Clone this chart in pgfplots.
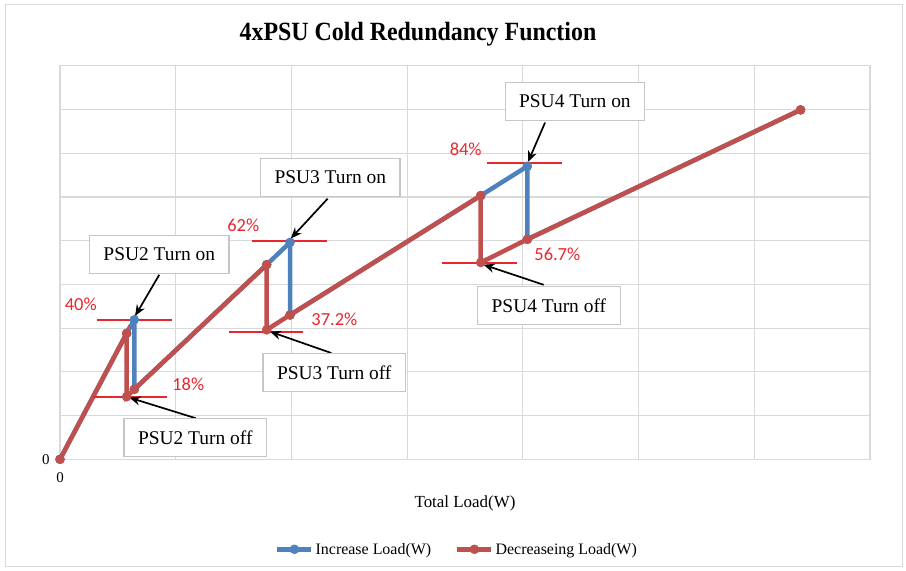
\documentclass[border=0pt]{standalone}
\usepackage{pgfplots}
\pgfplotsset{compat=1.18}
\usetikzlibrary{arrows.meta}
\usepackage{fontspec}
\setmainfont{Liberation Serif}
\newfontfamily\pctfont{Carlito}
\definecolor{serblue}{HTML}{4F81BD}
\definecolor{serred}{HTML}{C0504D}
\definecolor{annred}{HTML}{E8262E}
\definecolor{gridgray}{HTML}{D9D9D9}
\begin{document}
\begin{tikzpicture}
\path[use as bounding box] (0bp,0bp) rectangle (906bp,571bp);
\draw[gridgray, line width=1bp] (5bp,4bp) rectangle (902bp,566bp);
\node[font=\fontsize{24}{24}\selectfont\bfseries, yscale=1.1] at (418bp,537bp) {4xPSU Cold Redundancy Function};
\begin{axis}[
  at={(60bp,111.7bp)}, anchor=south west,
  scale only axis, width=810bp, height=393.6bp,
  xmin=0, xmax=7, ymin=0, ymax=9,
  xtick={0,...,7}, ytick={0,...,9},
  xticklabels={0,,,,,,,}, yticklabels={0,,,,,,,,,},
  major tick length=0pt,
  grid=major, major grid style={gridgray, line width=1.2bp},
  axis line style={gridgray, line width=1.2bp},
  tick label style={font=\fontsize{15}{15}\selectfont},
  yticklabel style={xshift=-7bp},
  xticklabel style={yshift=-10bp},
  xlabel={Total Load(W)},
  xlabel style={at={(axis description cs:0.5,0)}, anchor=center, yshift=-44bp, font=\fontsize{17}{17}\selectfont},
  legend style={at={(axis description cs:0.5,0)}, anchor=center, yshift=-90bp, xshift=-8bp, draw=none, fill=none,
    legend columns=-1, font=\fontsize{16}{16}\selectfont,
    /tikz/every even column/.append style={column sep=22bp}},
  legend image code/.code={\draw[mark repeat=2,mark phase=2] plot coordinates {(0bp,0bp)(17bp,0bp)(34bp,0bp)};},
]
\addplot[serblue, line width=4.5bp, mark=*, mark size=4.5bp, mark options={fill=serblue, draw=serblue, line width=0.5bp}]
  coordinates {(0,0) (0.576,2.88) (0.642,3.19) (0.642,1.60) (1.786,4.45) (1.988,4.96) (1.988,3.30) (3.636,6.03) (4.039,6.70) (4.039,5.03) (6.40,7.99)};
\addlegendentry{Increase Load(W)}
\addplot[serred, line width=4.5bp, mark=*, mark size=4.5bp, mark options={fill=serred, draw=serred, line width=0.5bp}]
  coordinates {(0,0) (0.576,2.88) (0.576,1.43) (0.642,1.60) (1.786,4.45) (1.786,2.96) (1.988,3.30) (3.636,6.03) (3.636,4.50) (4.039,5.03) (6.40,7.99)};
\addlegendentry{Decreaseing Load(W)}
% threshold lines
\addplot[annred, line width=2bp, forget plot] coordinates {(0.317,3.19) (0.966,3.19)};
\addplot[annred, line width=2bp, forget plot] coordinates {(0.288,1.43) (0.922,1.43)};
\addplot[annred, line width=2bp, forget plot] coordinates {(1.662,5.00) (2.305,5.00)};
\addplot[annred, line width=2bp, forget plot] coordinates {(1.463,2.92) (2.103,2.92)};
\addplot[annred, line width=2bp, forget plot] coordinates {(3.693,6.77) (4.341,6.77)};
\addplot[annred, line width=2bp, forget plot] coordinates {(3.299,4.49) (3.947,4.49)};
% percentages
\begin{scope}[every node/.style={text=annred, font=\pctfont\fontsize{18.5}{18.5}\selectfont}]
\node at (axis cs:0.18,3.55) {40\%};
\node at (axis cs:1.109,1.716) {18\%};
\node at (axis cs:1.584,5.346) {62\%};
\node at (axis cs:2.371,3.21) {37.2\%};
\node at (axis cs:3.506,7.08) {84\%};
\node at (axis cs:4.298,4.69) {56.7\%};
\end{scope}
% arrows
\begin{scope}[-{Stealth[length=11bp,width=9bp]}, line width=1.7bp, black]
\draw (axis cs:0.858,4.22) -- (axis cs:0.650,3.28);
\draw (axis cs:1.173,0.94) -- (axis cs:0.600,1.41);
\draw (axis cs:2.313,5.96) -- (axis cs:1.995,5.05);
\draw (axis cs:2.345,2.43) -- (axis cs:1.815,2.92);
\draw (axis cs:4.192,7.70) -- (axis cs:4.045,6.80);
\draw (axis cs:4.18,3.99) -- (axis cs:3.66,4.45);
\end{scope}
% callout boxes
\begin{scope}[every node/.style={draw=gray!45, fill=white, line width=1.2bp, inner xsep=14bp, minimum height=38bp, font=\fontsize{19.5}{19.5}\selectfont}]
\node at (axis cs:0.858,4.68) {PSU2 Turn on};
\node at (axis cs:1.169,0.50) {PSU2 Turn off};
\node at (axis cs:2.336,6.44) {PSU3 Turn on};
\node at (axis cs:2.37,1.99) {PSU3 Turn off};
\node at (axis cs:4.45,8.19) {PSU4 Turn on};
\node at (axis cs:4.225,3.52) {PSU4 Turn off};
\end{scope}
\end{axis}
\end{tikzpicture}
\end{document}
